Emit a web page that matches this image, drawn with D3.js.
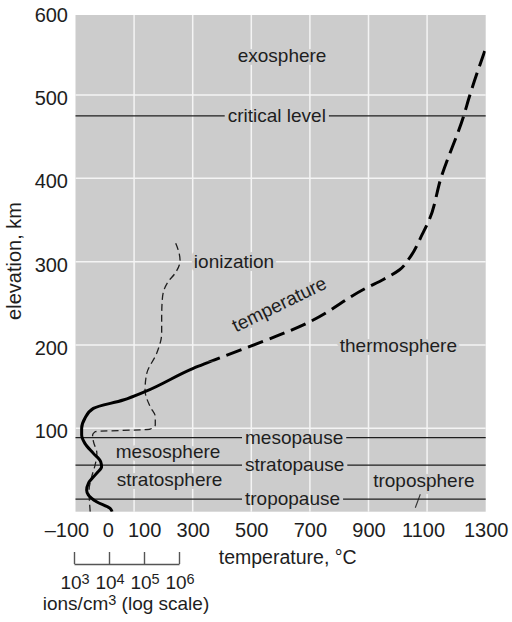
<!DOCTYPE html>
<html><head><meta charset="utf-8">
<script src="https://cdn.jsdelivr.net/npm/d3@7"></script>
<style>
html,body{margin:0;padding:0;background:#fff;}
svg{display:block;}
text{font-family:"Liberation Sans", Arial, sans-serif; fill:#1e1e1e;}
</style></head><body>
<svg id="chart" width="512" height="622"></svg>
<script>
// ---------------- data ----------------
const elevationTicks = [100, 200, 300, 400, 500, 600];
const elevationGrid = [100, 200, 300, 400, 500];
const temperatureGrid = [100, 300, 500, 700, 900, 1100];
const temperatureTicks = [-100, 0, 100, 300, 500, 700, 900, 1100, 1300];
const ionTicks = [1e3, 1e4, 1e5, 1e6];
const ionTickExponents = ["3", "4", "5", "6"];

// temperature profile (°C) against elevation (km)
const tempElevation = [0, 4, 12, 20, 26, 34, 46, 54, 60, 70, 82, 92, 100, 112, 124, 134, 144, 172, 180, 228, 268, 279, 290, 304, 334, 350, 400, 474, 500, 556];
const tempValue     = [25, 18, -28, -56, -62, -56, -28, -11, -14, -39, -68, -79, -79, -68, -39, 63, 137, 302, 359, 700, 890, 952, 1005, 1039, 1085, 1107, 1147, 1224, 1246, 1300];
const dashStartElevation = 180; // above this the temperature curve is dashed (uncertain)

// ionization (ions/cm³) against elevation (km)
const ionElevation = [0, 26, 42, 56, 70, 84, 92, 96, 99, 104, 114, 126, 146, 166, 190, 214, 234, 252, 264, 276, 286, 296, 302, 314, 324];
const ionDensity   = [2.9e3, 2.7e3, 3.2e3, 4.0e3, 4.5e3, 3.6e3, 3.4e3, 4.0e3, 1.5e5, 2.1e5, 2.1e5, 1.5e5, 1.07e5, 1.2e5, 2.3e5, 3.2e5, 3.2e5, 3.3e5, 3.6e5, 4.9e5, 7.7e5, 1.02e6, 1.07e6, 9.5e5, 7.7e5];

// boundary levels
const layerNames = ["critical level", "mesopause", "stratopause", "tropopause"];
const layerElevation = [475, 89, 56, 15];

// region names
const regionNames = ["exosphere", "thermosphere", "mesosphere", "stratosphere", "troposphere"];

// ---------------- layout ----------------
const svg = d3.select("#chart");
const plot = {left: 75.5, right: 485.7, top: 15, bottom: 511.7};
const x = d3.scaleLinear().domain([-100, 1300]).range([plot.left, plot.right]);
const y = d3.scaleLinear().domain([0, 600]).range([plot.bottom, 11.7]);
const ionX = d3.scaleLog().domain([1e3, 1e6]).range([74, 179]);
const GRAY = "#cccccc";

svg.append("rect").attr("width", 512).attr("height", 622).attr("fill", "#fff");

const defs = svg.append("defs");
defs.append("clipPath").attr("id", "plotClip").append("rect")
  .attr("x", plot.left).attr("y", plot.top).attr("width", plot.right - plot.left).attr("height", plot.bottom - plot.top);
defs.append("clipPath").attr("id", "solidClip").append("rect")
  .attr("x", plot.left).attr("y", y(dashStartElevation)).attr("width", plot.right - plot.left).attr("height", plot.bottom - y(dashStartElevation));
defs.append("clipPath").attr("id", "dashClip").append("rect")
  .attr("x", plot.left).attr("y", plot.top).attr("width", plot.right - plot.left).attr("height", y(dashStartElevation) - plot.top);

// background
svg.append("rect").attr("x", plot.left).attr("y", plot.top)
  .attr("width", plot.right - plot.left).attr("height", plot.bottom - plot.top).attr("fill", GRAY);

// grid
const grid = svg.append("g").attr("stroke", "#f4f4f4").attr("stroke-width", 1.5);
grid.selectAll("line.v").data(temperatureGrid).join("line")
  .attr("x1", d => x(d)).attr("x2", d => x(d)).attr("y1", plot.top).attr("y2", plot.bottom);
grid.selectAll("line.h").data(elevationGrid).join("line")
  .attr("x1", plot.left).attr("x2", plot.right).attr("y1", d => y(d)).attr("y2", d => y(d));

// y axis
const yAxis = d3.axisLeft(y).tickValues(elevationTicks).tickSize(0).tickPadding(0);
const gy = svg.append("g").attr("transform", "translate(68,0)").call(yAxis);
gy.select(".domain").remove();
gy.selectAll("text").attr("font-size", 20).attr("font-family", "Liberation Sans, Arial, sans-serif")
  .attr("fill", "#1e1e1e").attr("x", 0).attr("dy", 0).attr("y", 9.3);

svg.append("text").attr("transform", "rotate(-90)").attr("x", -261).attr("y", 20.5)
  .attr("text-anchor", "middle").attr("font-size", 20).text("elevation, km");

// x axis (temperature)
const labelShift = {"-100": -9, "0": 3, "100": 10, "1100": -4};
const xAxis = d3.axisBottom(x).tickValues(temperatureTicks).tickSize(0).tickPadding(0)
  .tickFormat(d => d < 0 ? "\u2013" + Math.abs(d) : String(d));
const gx = svg.append("g").attr("transform", "translate(0,536.7)").call(xAxis);
gx.select(".domain").remove();
gx.selectAll("text").attr("font-size", 20).attr("font-family", "Liberation Sans, Arial, sans-serif")
  .attr("fill", "#1e1e1e").attr("dy", 0).attr("y", 0)
  .attr("x", d => labelShift[String(d)] || 0);

svg.append("text").attr("x", 287.7).attr("y", 564).attr("text-anchor", "middle")
  .attr("font-size", 19.5).text("temperature, \u00B0C");

// ionization axis (log scale)
const ionAxis = d3.axisBottom(ionX).tickValues(ionTicks).tickSize(-12).tickSizeOuter(0).tickFormat(() => "");
const gi = svg.append("g").attr("transform", "translate(0,564)").call(ionAxis);
gi.select(".domain").attr("stroke", "#555").attr("stroke-width", 1.4);
gi.selectAll(".tick line").attr("stroke", "#555").attr("stroke-width", 1.4);
gi.selectAll(".tick text").remove();
const ionLab = svg.append("g");
ionTicks.forEach((v, i) => {
  const t = ionLab.append("text").attr("x", ionX(v) + 1).attr("y", 588.5)
    .attr("text-anchor", "middle").attr("font-size", 19);
  t.append("tspan").text("10");
  t.append("tspan").attr("font-size", 14.5).attr("dy", -5).text(ionTickExponents[i]);
});
const ionTitle = svg.append("text").attr("x", 126).attr("y", 610).attr("text-anchor", "middle").attr("font-size", 19);
ionTitle.append("tspan").text("ions/cm");
ionTitle.append("tspan").attr("font-size", 14.5).attr("dy", -5).text("3");
ionTitle.append("tspan").attr("dy", 5).text(" (log scale)");

// region labels (knock out the grid behind them)
const regionAnchor = [[605, 540], [1002, 192], [216, 64], [221, 31], [1089, 29.3]];
const halo = sel => sel.attr("stroke", GRAY).attr("stroke-width", 6).attr("paint-order", "stroke").attr("stroke-linejoin", "round");
svg.append("g").selectAll("text").data(regionNames).join("text")
  .attr("x", (d, i) => x(regionAnchor[i][0])).attr("y", (d, i) => y(regionAnchor[i][1]))
  .attr("text-anchor", "middle").attr("font-size", 19).text(d => d).call(halo);

// troposphere pointer
svg.append("line").attr("x1", 415.3).attr("y1", 507.7).attr("x2", 420.3).attr("y2", 494.3)
  .attr("stroke", "#333").attr("stroke-width", 1.1);

// boundary levels
const layerStart = [419.5, 478.5, 478.5, 478.5];
const gl = svg.append("g");
layerNames.forEach((name, i) => {
  const yy = y(layerElevation[i]);
  const t = gl.append("text").attr("x", x(layerStart[i])).attr("y", yy + 6)
    .attr("font-size", 19).text(name);
  const w = t.node().getComputedTextLength();
  const x0 = x(layerStart[i]);
  gl.append("line").attr("x1", plot.left).attr("x2", x0 - 3).attr("y1", yy).attr("y2", yy)
    .attr("stroke", "#1e1e1e").attr("stroke-width", 1.3);
  gl.append("line").attr("x1", x0 + w + 3).attr("x2", plot.right).attr("y1", yy).attr("y2", yy)
    .attr("stroke", "#1e1e1e").attr("stroke-width", 1.3);
});

// curve labels
svg.append("text").attr("x", x(304)).attr("y", y(292.4)).attr("font-size", 19).text("ionization").call(halo);
svg.append("text").attr("transform", `translate(${x(605)},${y(242)}) rotate(-26)`)
  .attr("text-anchor", "middle").attr("font-size", 19).text("temperature").call(halo);

// ionization curve
const ionPts = ionElevation.map((h, i) => ({h, n: ionDensity[i]}));
const ionLine = d3.line().x(d => ionX(d.n)).y(d => y(d.h)).curve(d3.curveMonotoneY);
svg.append("path").attr("clip-path", "url(#plotClip)").datum(ionPts).attr("d", ionLine)
  .attr("fill", "none").attr("stroke", "#1e1e1e").attr("stroke-width", 1.3).attr("stroke-dasharray", "7,4");

// temperature curve
const tPts = tempElevation.map((h, i) => ({h, t: tempValue[i]}));
const tLine = d3.line().x(d => x(d.t)).y(d => y(d.h)).curve(d3.curveMonotoneY);
const tg = svg.append("g").attr("clip-path", "url(#plotClip)");
tg.append("path").attr("clip-path", "url(#solidClip)").datum(tPts).attr("d", tLine)
  .attr("fill", "none").attr("stroke", "#000").attr("stroke-width", 3);
tg.append("path").attr("clip-path", "url(#dashClip)").datum(tPts).attr("d", tLine)
  .attr("fill", "none").attr("stroke", "#000").attr("stroke-width", 3).attr("stroke-dasharray", "16,7");
</script>
</body></html>
